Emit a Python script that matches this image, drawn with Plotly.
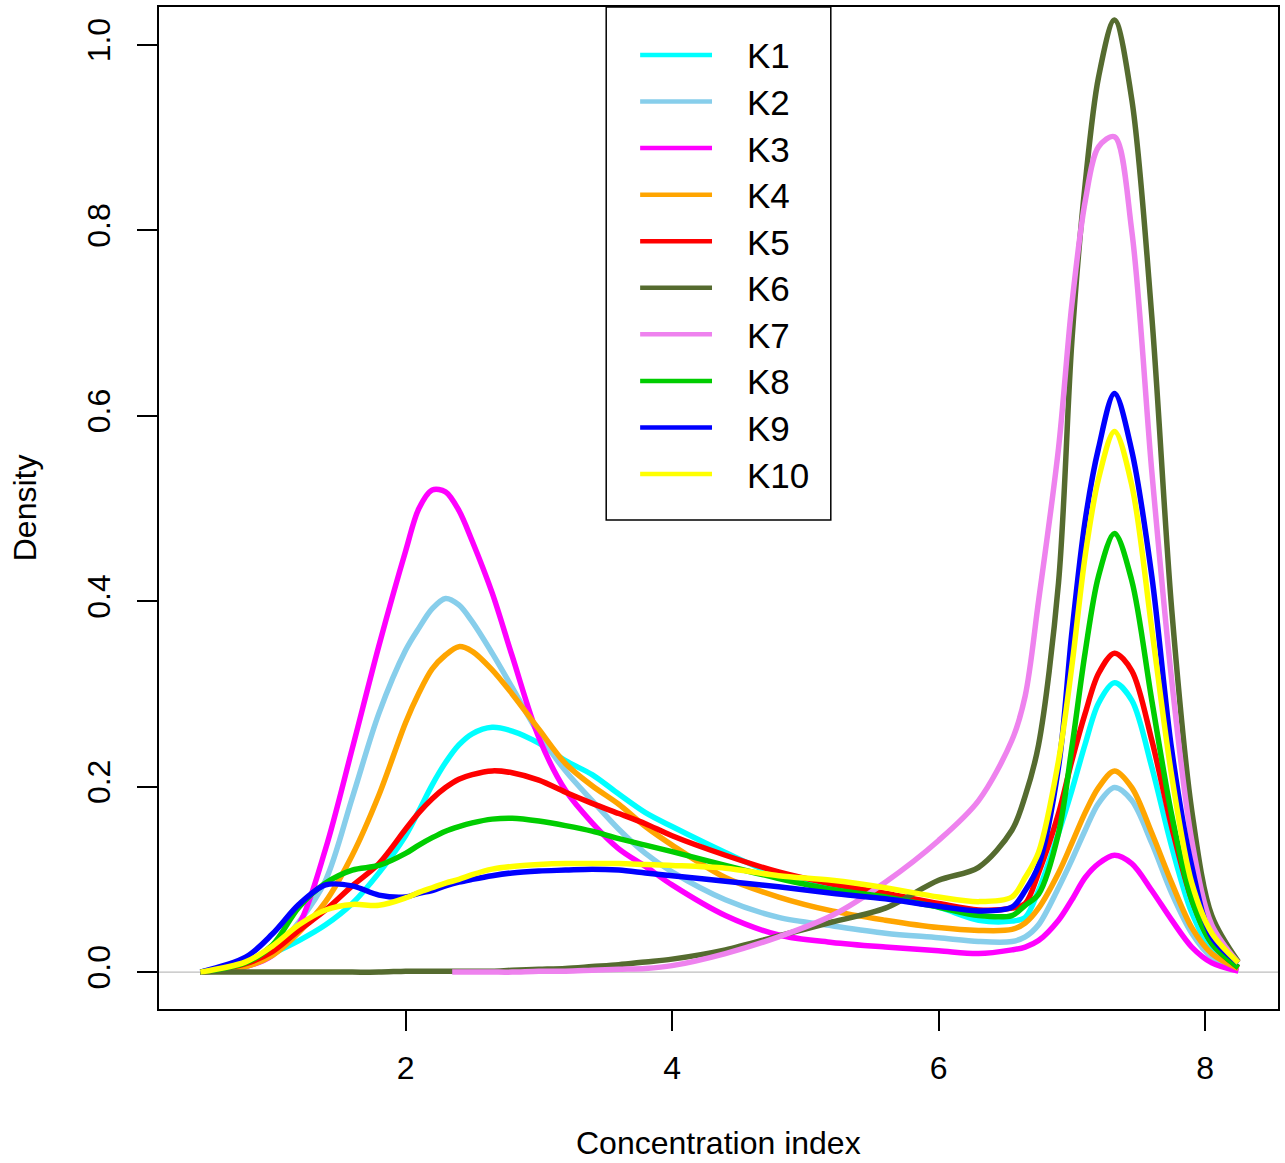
import plotly.graph_objects as go

# ---------------- data ----------------
x_grid = [0.46, 0.8, 1.0, 1.2, 1.4, 1.6, 1.8, 2.0, 2.1, 2.2, 2.3, 2.4, 2.5, 2.65, 2.8, 3.0,
          3.2, 3.4, 3.6, 3.8, 4.0, 4.4, 4.8, 5.2, 5.6, 6.0, 6.3, 6.55, 6.65, 6.75, 6.9,
          7.0, 7.1, 7.2, 7.32, 7.45, 7.6, 7.75, 7.9, 8.05, 8.25]

k1 = [0.000, 0.008, 0.020, 0.034, 0.051, 0.074, 0.107, 0.147, 0.174, 0.202, 0.226, 0.245, 0.257, 0.264, 0.260, 0.247,
      0.228, 0.213, 0.192, 0.172, 0.157, 0.129, 0.104, 0.090, 0.083, 0.070, 0.056, 0.055, 0.059, 0.088, 0.150,
      0.196, 0.246, 0.290, 0.312, 0.293, 0.221, 0.135, 0.064, 0.024, 0.004]
k2 = [0.000, 0.006, 0.022, 0.054, 0.099, 0.188, 0.279, 0.347, 0.371, 0.392, 0.403, 0.396, 0.378, 0.344, 0.307, 0.257,
      0.217, 0.185, 0.154, 0.128, 0.108, 0.078, 0.059, 0.050, 0.042, 0.037, 0.033, 0.033, 0.038, 0.051, 0.091,
      0.121, 0.153, 0.182, 0.199, 0.185, 0.139, 0.085, 0.042, 0.016, 0.002]
k3 = [0.000, 0.006, 0.018, 0.051, 0.133, 0.241, 0.352, 0.454, 0.500, 0.520, 0.518, 0.498, 0.465, 0.409, 0.341, 0.253,
      0.196, 0.161, 0.133, 0.114, 0.094, 0.061, 0.040, 0.032, 0.027, 0.023, 0.020, 0.024, 0.027, 0.034, 0.056,
      0.078, 0.102, 0.117, 0.126, 0.117, 0.088, 0.056, 0.027, 0.010, 0.001]
k4 = [0.000, 0.006, 0.018, 0.043, 0.076, 0.126, 0.191, 0.269, 0.301, 0.327, 0.342, 0.351, 0.346, 0.326, 0.300, 0.262,
      0.225, 0.201, 0.181, 0.157, 0.137, 0.102, 0.081, 0.066, 0.056, 0.048, 0.045, 0.046, 0.053, 0.069, 0.107,
      0.139, 0.172, 0.199, 0.217, 0.199, 0.150, 0.096, 0.048, 0.020, 0.004]
k5 = [0.000, 0.009, 0.022, 0.045, 0.067, 0.093, 0.117, 0.154, 0.172, 0.187, 0.199, 0.208, 0.213, 0.217, 0.215, 0.207,
      0.194, 0.182, 0.171, 0.160, 0.147, 0.126, 0.108, 0.095, 0.085, 0.074, 0.067, 0.069, 0.074, 0.107, 0.171,
      0.228, 0.279, 0.322, 0.344, 0.325, 0.250, 0.156, 0.078, 0.031, 0.005]
k6 = [0.000, 0.000, 0.000, 0.000, 0.000, 0.000, 0.000, 0.001, 0.001, 0.001, 0.001, 0.001, 0.001, 0.001, 0.002, 0.003,
      0.004, 0.006, 0.008, 0.011, 0.014, 0.024, 0.039, 0.054, 0.069, 0.099, 0.113, 0.153, 0.190, 0.245, 0.420,
      0.680, 0.850, 0.965, 1.027, 0.941, 0.707, 0.390, 0.174, 0.061, 0.011]
k7_x = [2.35, 2.5, 2.65, 2.8, 3.0,
        3.2, 3.4, 3.6, 3.8, 4.0, 4.4, 4.8, 5.2, 5.6, 6.0, 6.3, 6.55, 6.65, 6.75, 6.9,
        7.0, 7.1, 7.2, 7.32, 7.45, 7.6, 7.75, 7.9, 8.05, 8.25]
k7 = [0.000, 0.000, 0.000, 0.000, 0.001,
      0.001, 0.002, 0.003, 0.004, 0.007, 0.020, 0.038, 0.061, 0.097, 0.142, 0.185, 0.250, 0.298, 0.400, 0.565,
      0.720, 0.831, 0.890, 0.901, 0.799, 0.540, 0.314, 0.142, 0.051, 0.010]
k8 = [0.000, 0.010, 0.029, 0.070, 0.096, 0.110, 0.115, 0.128, 0.137, 0.145, 0.152, 0.157, 0.161, 0.165, 0.166, 0.163,
      0.158, 0.152, 0.144, 0.137, 0.130, 0.115, 0.101, 0.089, 0.081, 0.070, 0.061, 0.061, 0.072, 0.084, 0.150,
      0.242, 0.345, 0.427, 0.473, 0.422, 0.293, 0.169, 0.078, 0.031, 0.005]
k9 = [0.000, 0.016, 0.041, 0.073, 0.094, 0.093, 0.083, 0.081, 0.085, 0.088, 0.093, 0.097, 0.100, 0.104, 0.107, 0.109,
      0.110, 0.111, 0.110, 0.107, 0.104, 0.098, 0.092, 0.085, 0.079, 0.071, 0.066, 0.070, 0.088, 0.115, 0.221,
      0.366, 0.487, 0.565, 0.624, 0.562, 0.427, 0.239, 0.114, 0.038, 0.010]
k10 = [0.000, 0.011, 0.028, 0.051, 0.067, 0.073, 0.072, 0.080, 0.086, 0.091, 0.096, 0.100, 0.105, 0.111, 0.114, 0.116,
       0.117, 0.117, 0.117, 0.116, 0.115, 0.112, 0.104, 0.099, 0.091, 0.081, 0.076, 0.081, 0.102, 0.129, 0.228,
       0.330, 0.449, 0.532, 0.583, 0.525, 0.370, 0.211, 0.096, 0.042, 0.010]

series_names = ["K1", "K2", "K3", "K4", "K5", "K6", "K7", "K8", "K9", "K10"]
series_values = [k1, k2, k3, k4, k5, k6, k7, k8, k9, k10]
series_x = [x_grid, x_grid, x_grid, x_grid, x_grid, x_grid, k7_x, x_grid, x_grid, x_grid]
series_colors = ["#00FFFF", "#87CEEB", "#FF00FF", "#FFA500", "#FF0000",
                 "#556B2F", "#EE82EE", "#00CD00", "#0000FF", "#FFFF00"]

x_ticks = [2, 4, 6, 8]
y_ticks = [0.0, 0.2, 0.4, 0.6, 0.8, 1.0]
y_tick_labels = ["0.0", "0.2", "0.4", "0.6", "0.8", "1.0"]

x_title = "Concentration index"
y_title = "Density"

# ---------------- figure ----------------
W, H = 1285, 1163
ML, MR, MT, MB = 159, 5, 5, 154
PW, PH = W - ML - MR, H - MT - MB
FONT = "Liberation Sans, Arial, Helvetica, sans-serif"
LW = 5.5


def px_to_paper_x(px):
    return (px - ML) / PW


def px_to_paper_y(py):
    return (H - MB - py) / PH


fig = go.Figure()
for name, xs, vals, col in zip(series_names, series_x, series_values, series_colors):
    fig.add_trace(go.Scatter(
        x=xs, y=vals, mode="lines", name=name,
        line=dict(color=col, width=LW, shape="spline", smoothing=0.9),
        showlegend=False, hoverinfo="x+y+name"))

shapes = []
# zero line (gray, as in R's plot.density)
shapes.append(dict(type="line", xref="paper", yref="y", x0=0, x1=1, y0=0, y1=0,
                   line=dict(color="#BEBEBE", width=1.2), layer="below"))

# legend box
shapes.append(dict(type="rect", xref="paper", yref="paper",
                   x0=px_to_paper_x(607), x1=px_to_paper_x(832),
                   y0=px_to_paper_y(519), y1=px_to_paper_y(5),
                   line=dict(color="black", width=1.5), fillcolor="white", layer="above"))

annotations = []
row0, row_step = 53, 46.67
for i, (name, col) in enumerate(zip(series_names, series_colors)):
    py = row0 + row_step * i
    shapes.append(dict(type="line", xref="paper", yref="paper",
                       x0=px_to_paper_x(641), x1=px_to_paper_x(713),
                       y0=px_to_paper_y(py), y1=px_to_paper_y(py),
                       line=dict(color=col, width=4.5), layer="above"))
    annotations.append(dict(text=name, xref="paper", yref="paper",
                            x=px_to_paper_x(746), y=px_to_paper_y(py + 1),
                            xanchor="left", yanchor="middle", showarrow=False,
                            font=dict(size=35, color="black", family=FONT)))

annotations.append(dict(text=x_title, xref="paper", yref="paper",
                        x=0.5, y=px_to_paper_y(1143), xanchor="center", yanchor="middle",
                        showarrow=False, font=dict(size=32, color="black", family=FONT)))
annotations.append(dict(text=y_title, xref="paper", yref="paper",
                        x=px_to_paper_x(25), y=px_to_paper_y(507), xanchor="center",
                        yanchor="middle", textangle=-90, showarrow=False,
                        font=dict(size=32, color="black", family=FONT)))

axis_common = dict(showgrid=False, zeroline=False, showline=True, linecolor="black",
                   linewidth=1.5, mirror=True, ticks="outside", ticklen=20, tickwidth=1.5,
                   tickcolor="black", tickfont=dict(size=32, color="black", family=FONT))

fig.update_layout(
    width=W, height=H,
    margin=dict(l=ML, r=MR, t=MT, b=MB, pad=0),
    paper_bgcolor="white", plot_bgcolor="white",
    xaxis=dict(range=[0.1498, 8.547], tickvals=x_ticks, ticklabelstandoff=10, **axis_common),
    yaxis=dict(range=[-0.0398, 1.0409], tickvals=y_ticks, ticktext=y_tick_labels,
               tickangle=-90, ticklabelstandoff=14, **axis_common),
    shapes=shapes, annotations=annotations, showlegend=False,
)

fig.write_html("out.html", config={"displayModeBar": False},
               post_script="document.body.style.margin='0px';document.body.style.overflow='hidden';")
